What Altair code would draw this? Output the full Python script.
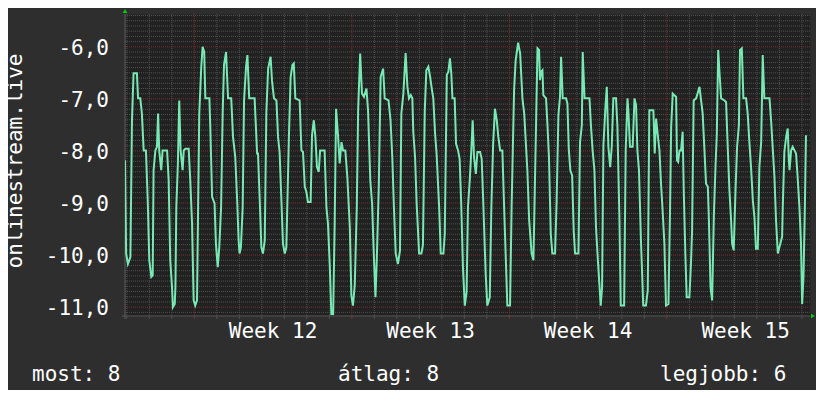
import altair as alt
import numpy as np
import pandas as pd

# ---------------- data ----------------
# time in days from the start of Week 12
time_days = [
    -3.08, -3.03, -2.95, -2.84, -2.77, -2.70, -2.55, -2.50, -2.40, -2.33, -2.25, -2.15, -2.07, -2.00,
    -1.91, -1.85, -1.81, -1.73, -1.66, -1.61, -1.56, -1.47, -1.41, -1.21, -1.14, -1.07, -0.99, -0.95,
    -0.87, -0.84, -0.80, -0.73, -0.67, -0.61, -0.52, -0.47, -0.40, -0.25, -0.18, -0.10, -0.03, 0.04,
    0.12, 0.16, 0.22, 0.31, 0.37, 0.44, 0.49, 0.67, 0.71, 0.79, 0.90, 0.96, 1.04, 1.11,
    1.19, 1.26, 1.32, 1.41, 1.50, 1.64, 1.72, 1.82, 1.91, 1.97, 2.01, 2.07, 2.15, 2.21,
    2.30, 2.36, 2.44, 2.68, 2.79, 2.83, 2.91, 2.98, 3.05, 3.13, 3.20, 3.28, 3.39, 3.45,
    3.54, 3.65, 3.72, 3.79, 3.87, 3.94, 4.02, 4.09, 4.20, 4.28, 4.36, 4.42, 4.49, 4.68,
    4.76, 4.83, 4.91, 4.98, 5.05, 5.17, 5.23, 5.31, 5.38, 5.45, 5.53, 5.59, 5.79, 5.87,
    5.94, 6.02, 6.09, 6.17, 6.24, 6.30, 6.39, 6.46, 6.54, 6.61, 6.71, 6.80, 6.91, 6.98,
    7.05, 7.13, 7.22, 7.28, 7.37, 7.45, 7.54, 7.65, 7.72, 7.82, 7.90, 7.97, 8.05, 8.11,
    8.20, 8.28, 8.39, 8.46, 8.63, 8.72, 8.80, 8.87, 8.95, 9.05, 9.14, 9.20, 9.29, 9.39,
    9.47, 9.54, 9.62, 9.69, 9.73, 9.81, 9.88, 9.99, 10.09, 10.16, 10.24, 10.31, 10.40, 10.48,
    10.55, 10.62, 10.70, 10.77, 10.88, 10.95, 11.07, 11.13, 11.22, 11.29, 11.36, 11.42, 11.47, 11.57,
    11.63, 11.72, 11.79, 11.86, 11.94, 12.02, 12.10, 12.16, 12.24, 12.31, 12.37, 12.43, 12.51, 12.58,
    12.70, 12.77, 12.84, 12.95, 13.02, 13.13, 13.20, 13.28, 13.36, 13.44, 13.51, 13.59, 13.69, 13.76,
    13.91, 14.03, 14.10, 14.21, 14.28, 14.39, 14.48, 14.58, 14.66, 14.80, 14.88, 14.99, 15.07, 15.13,
    15.19, 15.25, 15.32, 15.36, 15.41, 15.47, 15.51, 15.63, 15.69, 15.76, 15.84, 15.91, 16.03, 16.10,
    16.18, 16.25, 16.30, 16.37, 16.52, 16.58, 16.64, 16.71, 16.79, 16.86, 16.92, 17.07, 17.14, 17.22,
    17.26, 17.34, 17.56, 17.63, 17.70, 17.78, 17.85, 17.93, 18.00, 18.06, 18.12, 18.18, 18.27, 18.33,
    18.40, 18.48, 18.55, 18.62, 18.74, 18.80, 18.89, 18.95, 19.10, 19.17, 19.25, 19.29, 19.36, 19.48,
    19.56, 19.63, 19.69, 19.76, 19.85, 19.95, 20.07, 20.15, 20.22, 20.40, 20.46, 20.52, 20.59, 20.67,
    20.74, 20.81, 20.89, 20.96, 21.07, 21.14, 21.19, 21.26, 21.33, 21.41, 21.45, 21.50, 21.56, 21.63,
    21.70, 21.75, 21.82, 21.88, 22.00, 22.07, 22.12, 22.19, 22.30, 22.45, 22.52, 22.59, 22.67, 22.74,
    22.82, 22.86, 22.94, 23.01, 23.09, 23.16, 23.22, 23.28, 23.35, 23.41, 23.56, 23.63, 23.71, 23.78,
    23.85, 23.90, 23.97, 24.05, 24.12, 24.20, 24.25, 24.33, 24.40, 24.52, 24.59, 24.67, 24.74, 24.82,
    24.89, 24.96, 25.04, 25.11, 25.19, 25.26, 25.33, 25.56, 25.63, 25.71, 25.78, 25.85, 25.93, 26.00,
    26.12, 26.15, 26.22, 26.30, 26.37, 26.42, 26.45, 26.52, 26.59, 26.67, 26.74, 26.81, 26.89, 26.96,
    27.01, 27.07, 27.13, 27.18,
]
values = [
    -8.18, -9.97, -10.17, -10.04, -7.41, -6.51, -6.51, -6.99, -6.99, -7.28, -7.99, -7.99, -8.95, -10.10,
    -10.42, -10.39, -8.37, -7.99, -7.92, -7.28, -7.99, -8.37, -7.99, -7.99, -8.56, -10.10, -10.62, -11.00,
    -10.94, -10.62, -9.08, -8.24, -7.03, -7.99, -8.37, -7.99, -7.96, -7.96, -8.56, -9.40, -10.87, -10.97,
    -10.87, -9.40, -7.28, -6.38, -6.00, -6.10, -6.99, -6.99, -7.54, -8.88, -9.01, -9.78, -10.23, -9.85,
    -9.08, -7.28, -6.35, -6.10, -6.99, -6.99, -7.73, -8.12, -9.01, -9.72, -9.97, -9.85, -9.08, -7.03,
    -6.38, -6.16, -6.99, -6.99, -8.05, -8.05, -8.98, -9.85, -9.97, -9.72, -7.28, -6.42, -6.19, -6.64,
    -6.99, -7.03, -7.73, -8.02, -8.95, -9.78, -9.97, -9.85, -7.79, -6.58, -6.35, -6.32, -6.99, -7.03,
    -7.99, -8.02, -8.69, -8.79, -8.98, -8.98, -7.70, -7.41, -7.73, -8.31, -8.40, -7.99, -7.99, -9.08,
    -9.40, -10.20, -11.13, -11.13, -9.33, -7.19, -7.73, -8.24, -7.83, -7.99, -7.99, -8.50, -9.46, -10.78,
    -10.97, -10.58, -9.08, -7.22, -6.13, -6.90, -6.96, -6.80, -7.22, -8.56, -9.01, -9.91, -10.81, -10.07,
    -8.63, -6.58, -6.42, -6.99, -7.03, -7.41, -8.15, -9.08, -9.97, -10.17, -9.91, -7.28, -6.90, -6.12,
    -6.77, -6.99, -6.93, -6.99, -7.63, -8.12, -9.01, -9.97, -9.97, -9.81, -7.25, -6.45, -6.38, -6.58,
    -6.80, -6.99, -7.67, -8.08, -9.08, -9.97, -9.97, -9.59, -6.54, -6.48, -6.22, -6.51, -6.99, -6.99,
    -7.86, -7.99, -8.15, -9.01, -10.26, -10.97, -10.71, -9.08, -8.56, -7.99, -7.41, -8.12, -8.44, -8.02,
    -8.02, -8.15, -8.98, -10.39, -10.97, -10.81, -9.08, -7.86, -7.19, -7.41, -7.73, -7.99, -7.99, -8.98,
    -10.97, -10.97, -9.08, -6.83, -6.26, -5.92, -6.13, -6.99, -7.28, -8.37, -9.33, -9.97, -10.10, -8.76,
    -7.41, -6.03, -6.06, -6.64, -6.48, -6.45, -6.93, -6.99, -7.47, -8.12, -9.59, -9.97, -9.97, -8.98,
    -7.31, -6.96, -6.19, -6.99, -6.99, -7.09, -7.96, -8.37, -8.47, -9.53, -9.97, -9.97, -7.83, -7.51,
    -6.10, -6.99, -6.99, -7.54, -7.99, -8.37, -9.46, -10.07, -10.55, -10.97, -10.62, -7.89, -7.15, -6.77,
    -7.92, -8.31, -7.92, -6.99, -6.99, -7.51, -9.27, -10.97, -10.97, -7.99, -6.99, -7.25, -7.92, -7.92,
    -6.99, -7.12, -7.99, -8.37, -9.75, -10.97, -10.97, -10.68, -7.22, -7.22, -8.05, -7.38, -7.67, -7.99,
    -8.63, -9.14, -9.78, -10.97, -10.94, -9.14, -7.54, -6.90, -6.93, -6.96, -8.18, -8.21, -7.99, -7.99,
    -7.63, -8.76, -9.97, -10.81, -10.81, -10.17, -9.53, -7.03, -6.99, -6.77, -7.03, -7.28, -7.99, -8.63,
    -8.69, -9.21, -10.62, -10.87, -9.21, -8.31, -7.67, -6.06, -6.58, -6.99, -7.03, -7.06, -7.99, -8.76,
    -9.30, -9.78, -9.91, -8.76, -7.92, -7.51, -6.06, -6.03, -6.99, -6.99, -7.28, -7.86, -8.31, -8.95,
    -9.27, -9.88, -9.88, -8.31, -7.83, -6.16, -6.99, -6.99, -7.41, -7.99, -8.50, -9.33, -9.97, -9.85,
    -9.65, -9.08, -8.02, -7.73, -7.57, -8.18, -8.37, -7.99, -7.92, -7.99, -8.05, -8.50, -9.08, -9.78,
    -10.94, -10.42, -9.14, -7.70,
]
week_names = ["Week 12", "Week 13", "Week 14", "Week 15"]
week_mid_days = [3.5, 10.5, 17.5, 24.5]
week_start_days = [0, 7, 14, 21]
y_tick_values = [-11, -10, -9, -8, -7, -6]
y_tick_labels = ["-11,0", "-10,0", "-9,0", "-8,0", "-7,0", "-6,0"]
y_title = "onlinestream.live"
legend_texts = ["most: 8", "átlag: 8", "legjobb: 6"]

# ---------------- layout / style ----------------
W, H = 685, 302
X_DOMAIN = [-3.08, 27.36]
Y_DOMAIN = [-11.17, -5.37]
FONT = "DejaVu Sans Mono"
FS = 21
BG = "#2e2e2e"
CANVAS = "#212121"
LINE = "#78e8b4"
MINOR = "#505050"
MAJOR = "#7c3030"
WHITE = "#ffffff"
ARROW = "#00d000"
legend_x = [-93, 213, 535]
legend_y = 367

xs = alt.Scale(domain=X_DOMAIN, nice=False, zero=False)
ys = alt.Scale(domain=Y_DOMAIN, nice=False, zero=False)

df = pd.DataFrame({"t": time_days, "v": values})

minor_y = [round(float(v), 1) for v in np.arange(-11.1, -5.35, 0.1)
           if abs(v - round(v)) > 0.01]
minor_x = [d for d in range(-3, 28) if d % 7 != 0]


def hgrid(vals, color):
    return alt.Chart(pd.DataFrame({"g": vals})).mark_rule(
        color=color, strokeDash=[1, 1], strokeWidth=1
    ).encode(y=alt.Y("g:Q", scale=ys, axis=None), x=alt.value(0), x2=alt.value(W))


def vgrid(vals, color, y0, y1, dash=True):
    m = alt.Chart(pd.DataFrame({"g": vals})).mark_rule(
        color=color, strokeDash=[1, 1] if dash else [1, 0], strokeWidth=1
    )
    return m.encode(x=alt.X("g:Q", scale=xs, axis=None), y=alt.value(y0), y2=alt.value(y1))


line = alt.Chart(df).mark_line(color=LINE, strokeWidth=2, clip=True).encode(
    x=alt.X("t:Q", scale=xs, axis=None),
    y=alt.Y("v:Q", scale=ys, axis=None),
)

ylab = alt.Chart(pd.DataFrame({"v": y_tick_values, "s": y_tick_labels})).mark_text(
    font=FONT, fontSize=FS, color=WHITE, align="right", baseline="alphabetic", dy=8
).encode(y=alt.Y("v:Q", scale=ys, axis=None), x=alt.value(-16), text="s:N")

xlab = alt.Chart(pd.DataFrame({"t": week_mid_days, "s": week_names})).mark_text(
    font=FONT, fontSize=FS, color=WHITE, align="center", baseline="alphabetic"
).encode(x=alt.X("t:Q", scale=xs, axis=None), y=alt.value(324), text="s:N")

one = pd.DataFrame({"a": [0]})
axis_bottom = alt.Chart(one).mark_rule(color="#5a5a5a", strokeWidth=1).encode(
    x=alt.value(-3), x2=alt.value(W), y=alt.value(H), y2=alt.value(H))
axis_left = alt.Chart(one).mark_rule(color="#5a5a5a", strokeWidth=1).encode(
    x=alt.value(0), x2=alt.value(0), y=alt.value(0), y2=alt.value(H + 3))

arrow_up = alt.Chart(one).mark_point(shape="triangle-up", filled=True, color=ARROW,
                                     size=22, opacity=1).encode(
    x=alt.value(0), y=alt.value(-3))
arrow_right = alt.Chart(one).mark_point(shape="triangle-right", filled=True, color=ARROW,
                                        size=22, opacity=1).encode(
    x=alt.value(W + 3), y=alt.value(H))

title = alt.Chart(pd.DataFrame({"s": [y_title]})).mark_text(
    angle=270, font=FONT, fontSize=FS, color=WHITE, align="center", baseline="alphabetic"
).encode(x=alt.value(-103), y=alt.value(147), text="s:N")

legend_layers = [
    alt.Chart(pd.DataFrame({"s": [txt]})).mark_text(
        font=FONT, fontSize=FS, color=WHITE, align="left", baseline="alphabetic"
    ).encode(x=alt.value(px), y=alt.value(legend_y), text="s:N")
    for txt, px in zip(legend_texts, legend_x)
]

chart = alt.layer(
    hgrid(minor_y, MINOR),
    vgrid(minor_x, MINOR, 0, H),
    hgrid(y_tick_values, MAJOR),
    vgrid(week_start_days, MAJOR, 0, H),
    vgrid(minor_x, MINOR, H, H + 3, dash=False),
    vgrid(week_start_days, MAJOR, H, H + 3, dash=False),
    axis_bottom,
    axis_left,
    line,
    ylab,
    xlab,
    arrow_up,
    arrow_right,
    title,
    *legend_layers,
).properties(
    width=W, height=H,
    autosize=alt.AutoSizeParams(type="none"),
    padding={"left": 117, "top": 6, "right": 6, "bottom": 74},
).configure(background=BG).configure_view(fill=CANVAS, strokeOpacity=0)

chart.save("out.html", embed_options={"renderer": "svg", "actions": False})
